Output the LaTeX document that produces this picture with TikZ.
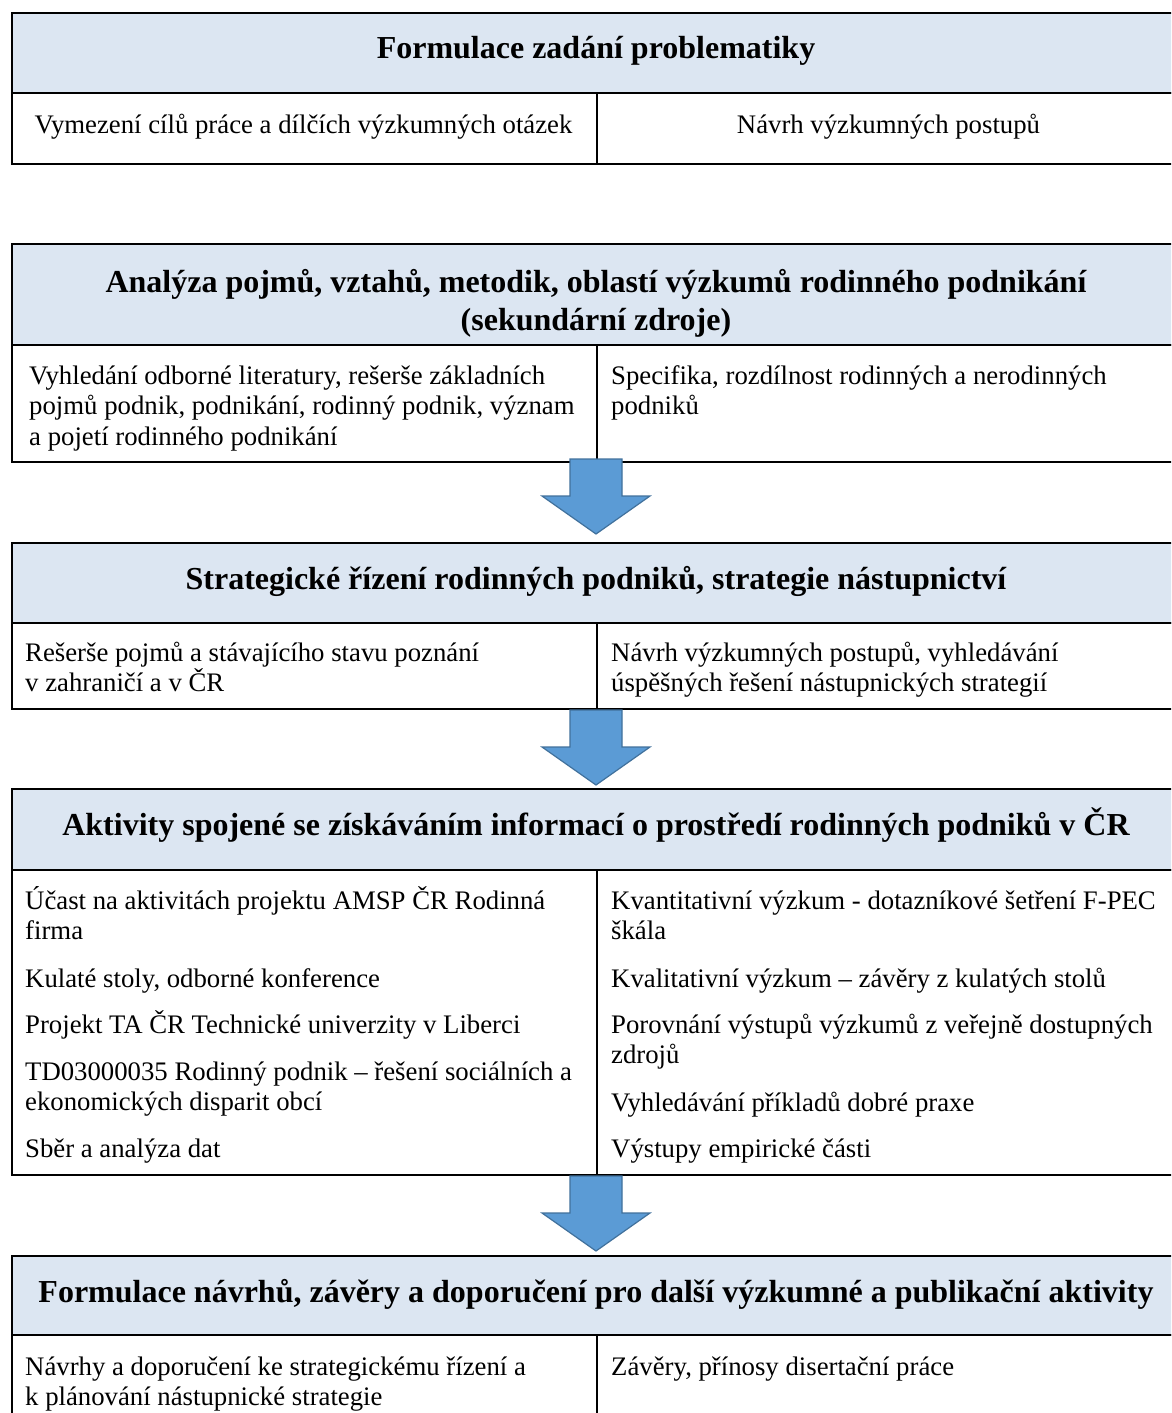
\documentclass[tikz,border=0pt]{standalone}
\usepackage{fontspec}
\setmainfont{Liberation Serif}
\definecolor{hdrblue}{HTML}{DCE6F2}
\definecolor{arrowfill}{HTML}{5B9BD5}
\definecolor{arrowline}{HTML}{41719C}

\begin{document}
\begin{tikzpicture}[x=1pt,y=-1pt,
  rule/.style={line width=1.8pt},
  hdrbox/.style={draw, rule, fill=hdrblue, anchor=north west, inner sep=0, minimum width=1170pt},
  cellbox/.style={draw, rule, anchor=north west, inner sep=0, minimum width=585pt},
  hdrtext/.style={font=\fontsize{32}{38}\selectfont\bfseries, anchor=base, inner sep=0},
  % multi-line body texts are placed by the baseline of their last line
  bodytext/.style={font=\fontsize{26.75}{30.8}\selectfont, anchor=base west, inner sep=0, align=left},
  blockarrow/.style={fill=arrowfill, draw=arrowline, line width=1.2pt, line join=miter}
]
\useasboundingbox (0,0) rectangle (1171,1413);
\clip (0,0) rectangle (1171,1413);
\fill[white] (0,0) rectangle (1171,1413);

% ---------- Block 1 ----------
\node[hdrbox, minimum height=80pt] (t1h) at (11,12) {};
\node[cellbox, minimum height=71pt] (t1l) at (11,92) {};
\node[cellbox, minimum height=71pt] (t1r) at (596,92) {};
\node[hdrtext] (t1ht) at (596,59) {Formulace zadání problematiky};
\node[bodytext, anchor=base] (t1lt) at (303.5,133) {Vymezení cílů práce a dílčích výzkumných otázek};
\node[bodytext, anchor=base] (t1rt) at (888.5,133) {Návrh výzkumných postupů};

% ---------- Block 2 ----------
\node[hdrbox, minimum height=101pt] (t2h) at (11,243) {};
\node[cellbox, minimum height=117pt] (t2l) at (11,344) {};
\node[cellbox, minimum height=117pt] (t2r) at (596,344) {};
\node[hdrtext] (t2ht1) at (596,292) {Analýza pojmů, vztahů, metodik, oblastí výzkumů rodinného podnikání};
\node[hdrtext] (t2ht2) at (596,330) {(sekundární zdroje)};
\node[bodytext] (t2lt) at (29,445.6) {Vyhledání odborné literatury, rešerše základních\\pojmů podnik, podnikání, rodinný podnik, význam\\a pojetí rodinného podnikání};
\node[bodytext] (t2rt) at (611,414.8) {Specifika, rozdílnost rodinných a nerodinných\\podniků};

% ---------- Block 3 ----------
\node[hdrbox, minimum height=80pt] (t3h) at (11,542) {};
\node[cellbox, minimum height=86pt] (t3l) at (11,622) {};
\node[cellbox, minimum height=86pt] (t3r) at (596,622) {};
\node[hdrtext] (t3ht) at (596,589) {Strategické řízení rodinných podniků, strategie nástupnictví};
\node[bodytext] (t3lt) at (25,691.8) {Rešerše pojmů a stávajícího stavu poznání\\v zahraničí a v ČR};
\node[bodytext] (t3rt) at (611,691.8) {Návrh výzkumných postupů, vyhledávání\\úspěšných řešení nástupnických strategií};

% ---------- Block 4 ----------
\node[hdrbox, minimum height=81pt] (t4h) at (11,788) {};
\node[cellbox, minimum height=305pt] (t4l) at (11,869) {};
\node[cellbox, minimum height=305pt] (t4r) at (596,869) {};
\node[hdrtext] (t4ht) at (596,835) {Aktivity spojené se získáváním informací o prostředí rodinných podniků v ČR};
\node[bodytext] (t4l1) at (25,939.8) {Účast na aktivitách projektu AMSP ČR Rodinná\\firma};
\node[bodytext] (t4l2) at (25,987) {Kulaté stoly, odborné konference};
\node[bodytext] (t4l3) at (25,1033) {Projekt TA ČR Technické univerzity v Liberci};
\node[bodytext] (t4l4) at (25,1110.8) {TD03000035 Rodinný podnik – řešení sociálních a\\ekonomických disparit obcí};
\node[bodytext] (t4l5) at (25,1157) {Sběr a analýza dat};
\node[bodytext] (t4r1) at (611,939.8) {Kvantitativní výzkum - dotazníkové šetření F-PEC\\škála};
\node[bodytext] (t4r2) at (611,987) {Kvalitativní výzkum – závěry z kulatých stolů};
\node[bodytext] (t4r3) at (611,1063.8) {Porovnání výstupů výzkumů z veřejně dostupných\\zdrojů};
\node[bodytext] (t4r4) at (611,1111) {Vyhledávání příkladů dobré praxe};
\node[bodytext] (t4r5) at (611,1157) {Výstupy empirické části};

% ---------- Block 5 ----------
\node[hdrbox, minimum height=79pt] (t5h) at (11,1255) {};
\node[cellbox, minimum height=120pt] (t5l) at (11,1334) {};
\node[cellbox, minimum height=120pt] (t5r) at (596,1334) {};
\node[hdrtext] (t5ht) at (596,1302) {Formulace návrhů, závěry a doporučení pro další výzkumné a publikační aktivity};
\node[bodytext] (t5lt) at (25,1405.8) {Návrhy a doporučení ke strategickému řízení a\\k plánování nástupnické strategie};
\node[bodytext] (t5rt) at (611,1375) {Závěry, přínosy disertační práce};

% ---------- Block arrows between the stages ----------
\newcommand{\stagearrow}[1]{%
  \draw[blockarrow] (570,#1) -- (622,#1) -- (622,#1+37) -- (650,#1+37)
    -- (596,#1+75) -- (542,#1+37) -- (570,#1+37) -- cycle;}
\stagearrow{459}
\stagearrow{710}
\stagearrow{1176}
\end{tikzpicture}
\end{document}
